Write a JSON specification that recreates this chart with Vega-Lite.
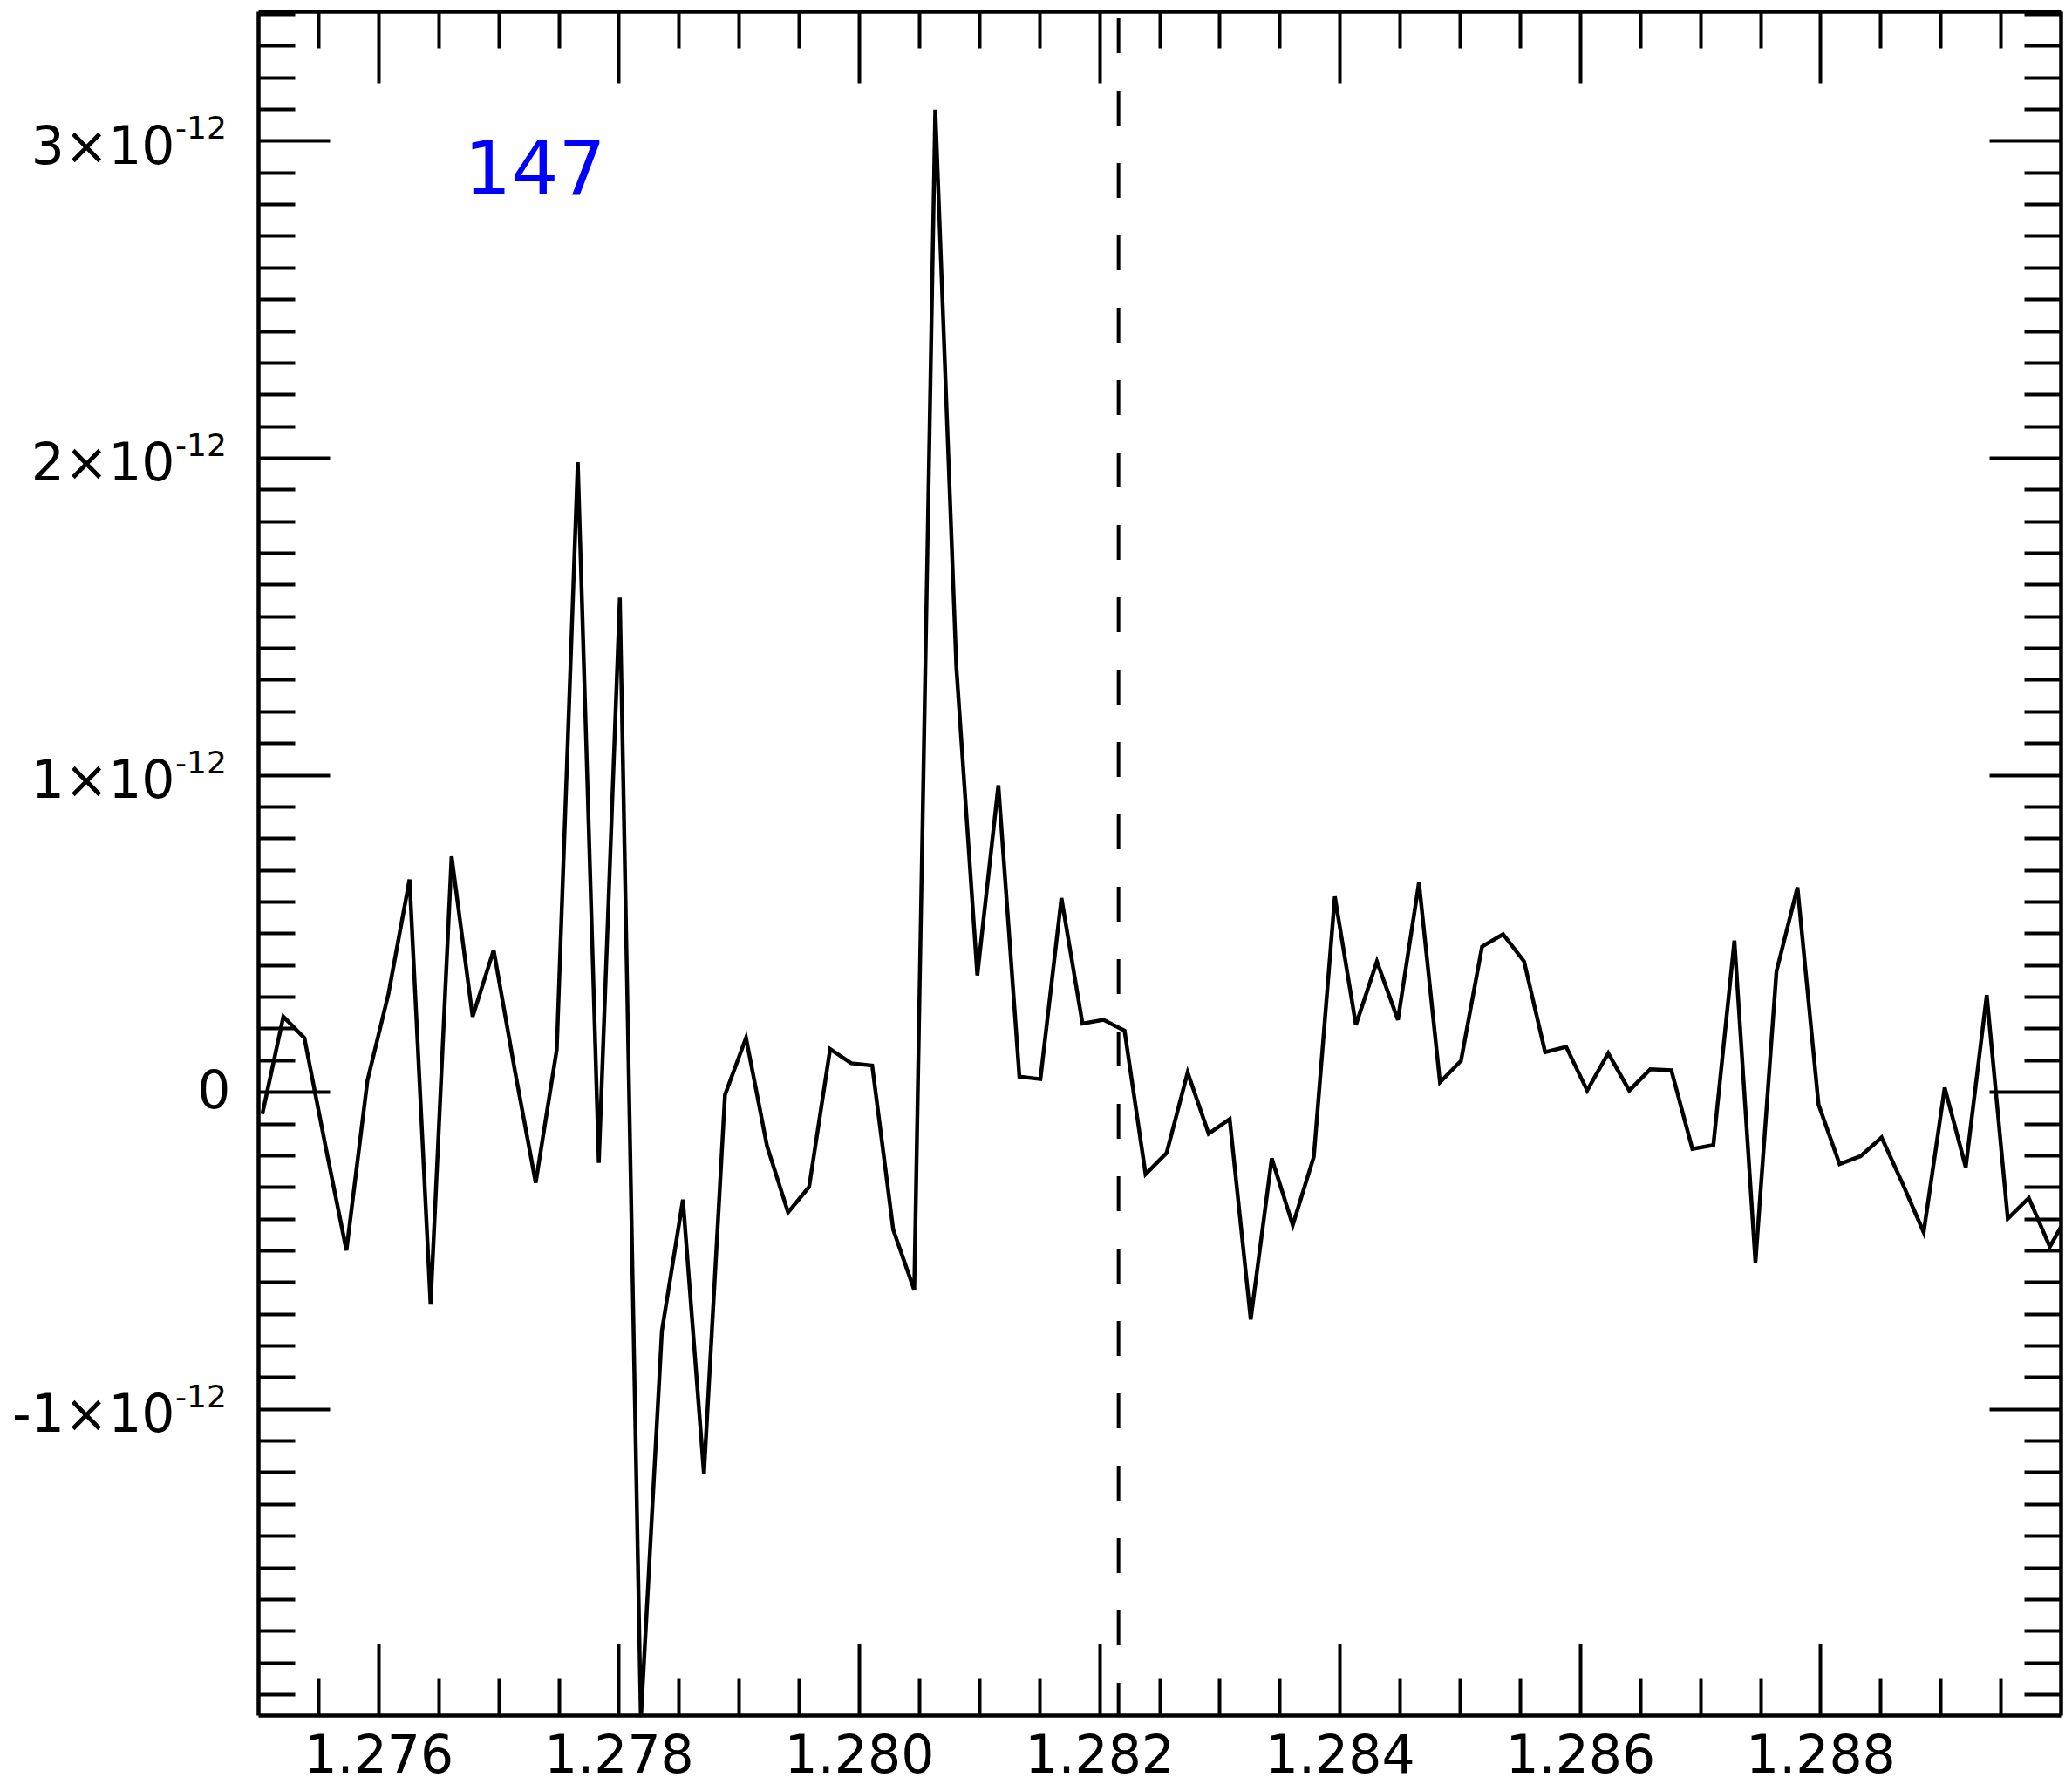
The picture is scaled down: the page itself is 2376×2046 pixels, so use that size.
{
  "$schema": "https://vega.github.io/schema/vega-lite/v6.json",
  "autosize": "none",
  "width": 2067,
  "height": 1954,
  "padding": {"left": 296, "top": 13, "right": 13, "bottom": 79},
  "background": "white",
  "config": {
    "view": {"stroke": null},
    "font": "DejaVu Sans",
    "axis": {
      "grid": false,
      "domainColor": "black",
      "domainWidth": 4.5,
      "tickColor": "black",
      "tickWidth": 4,
      "labelColor": "black",
      "labelFont": "DejaVu Sans",
      "labelFontSize": 60,
      "labelLimit": 0,
      "labelOverlap": false,
      "labelFlush": false,
      "title": null
    }
  },
  "datasets": {
    "spec": [
      {"wavelength": 1.275035, "flux": -0.07e-12},
      {"wavelength": 1.27521, "flux": 0.237e-12},
      {"wavelength": 1.275385, "flux": 0.17e-12},
      {"wavelength": 1.27556, "flux": -0.17e-12},
      {"wavelength": 1.275735, "flux": -0.50e-12},
      {"wavelength": 1.27591, "flux": 0.036e-12},
      {"wavelength": 1.276085, "flux": 0.31e-12},
      {"wavelength": 1.27626, "flux": 0.670e-12},
      {"wavelength": 1.276435, "flux": -0.671e-12},
      {"wavelength": 1.27661, "flux": 0.743e-12},
      {"wavelength": 1.276785, "flux": 0.237e-12},
      {"wavelength": 1.27696, "flux": 0.447e-12},
      {"wavelength": 1.277135, "flux": 0.07e-12},
      {"wavelength": 1.27731, "flux": -0.287e-12},
      {"wavelength": 1.277485, "flux": 0.133e-12},
      {"wavelength": 1.27766, "flux": 1.986e-12},
      {"wavelength": 1.277835, "flux": -0.224e-12},
      {"wavelength": 1.27801, "flux": 1.559e-12},
      {"wavelength": 1.278185, "flux": -1.98e-12},
      {"wavelength": 1.27836, "flux": -0.754e-12},
      {"wavelength": 1.278535, "flux": -0.34e-12},
      {"wavelength": 1.27871, "flux": -1.205e-12},
      {"wavelength": 1.278885, "flux": -0.01e-12},
      {"wavelength": 1.27906, "flux": 0.17e-12},
      {"wavelength": 1.279235, "flux": -0.171e-12},
      {"wavelength": 1.27941, "flux": -0.38e-12},
      {"wavelength": 1.279585, "flux": -0.30e-12},
      {"wavelength": 1.27976, "flux": 0.135e-12},
      {"wavelength": 1.279935, "flux": 0.09e-12},
      {"wavelength": 1.28011, "flux": 0.083e-12},
      {"wavelength": 1.280285, "flux": -0.435e-12},
      {"wavelength": 1.28046, "flux": -0.625e-12},
      {"wavelength": 1.280635, "flux": 3.098e-12},
      {"wavelength": 1.28081, "flux": 1.342e-12},
      {"wavelength": 1.280985, "flux": 0.367e-12},
      {"wavelength": 1.28116, "flux": 0.967e-12},
      {"wavelength": 1.281335, "flux": 0.048e-12},
      {"wavelength": 1.28151, "flux": 0.040e-12},
      {"wavelength": 1.281685, "flux": 0.611e-12},
      {"wavelength": 1.28186, "flux": 0.215e-12},
      {"wavelength": 1.282035, "flux": 0.227e-12},
      {"wavelength": 1.28221, "flux": 0.193e-12},
      {"wavelength": 1.282385, "flux": -0.26e-12},
      {"wavelength": 1.28256, "flux": -0.193e-12},
      {"wavelength": 1.282735, "flux": 0.061e-12},
      {"wavelength": 1.28291, "flux": -0.132e-12},
      {"wavelength": 1.283085, "flux": -0.086e-12},
      {"wavelength": 1.28326, "flux": -0.718e-12},
      {"wavelength": 1.283435, "flux": -0.21e-12},
      {"wavelength": 1.28361, "flux": -0.42e-12},
      {"wavelength": 1.283785, "flux": -0.205e-12},
      {"wavelength": 1.28396, "flux": 0.616e-12},
      {"wavelength": 1.284135, "flux": 0.211e-12},
      {"wavelength": 1.28431, "flux": 0.411e-12},
      {"wavelength": 1.284485, "flux": 0.227e-12},
      {"wavelength": 1.28466, "flux": 0.660e-12},
      {"wavelength": 1.284835, "flux": 0.030e-12},
      {"wavelength": 1.28501, "flux": 0.098e-12},
      {"wavelength": 1.285185, "flux": 0.458e-12},
      {"wavelength": 1.28536, "flux": 0.497e-12},
      {"wavelength": 1.285535, "flux": 0.411e-12},
      {"wavelength": 1.28571, "flux": 0.125e-12},
      {"wavelength": 1.285885, "flux": 0.142e-12},
      {"wavelength": 1.28606, "flux": 0.004e-12},
      {"wavelength": 1.286235, "flux": 0.122e-12},
      {"wavelength": 1.28641, "flux": 0.004e-12},
      {"wavelength": 1.286585, "flux": 0.071e-12},
      {"wavelength": 1.28676, "flux": 0.068e-12},
      {"wavelength": 1.286935, "flux": -0.18e-12},
      {"wavelength": 1.28711, "flux": -0.168e-12},
      {"wavelength": 1.287285, "flux": 0.477e-12},
      {"wavelength": 1.28746, "flux": -0.538e-12},
      {"wavelength": 1.287635, "flux": 0.38e-12},
      {"wavelength": 1.28781, "flux": 0.645e-12},
      {"wavelength": 1.287985, "flux": -0.04e-12},
      {"wavelength": 1.28816, "flux": -0.228e-12},
      {"wavelength": 1.288335, "flux": -0.203e-12},
      {"wavelength": 1.28851, "flux": -0.144e-12},
      {"wavelength": 1.288685, "flux": -0.29e-12},
      {"wavelength": 1.28886, "flux": -0.443e-12},
      {"wavelength": 1.289035, "flux": 0.013e-12},
      {"wavelength": 1.28921, "flux": -0.238e-12},
      {"wavelength": 1.289385, "flux": 0.305e-12},
      {"wavelength": 1.28956, "flux": -0.40e-12},
      {"wavelength": 1.289735, "flux": -0.335e-12},
      {"wavelength": 1.28991, "flux": -0.489e-12},
      {"wavelength": 1.290085, "flux": -0.37e-12}
    ],
    "line_ref": [{"wavelength": 1.28216}],
    "note": [{"wavelength": 1.277304, "flux": 2.83e-12, "label": "147"}],
    "exponent": [
      {"wavelength": 1.275, "flux": -1e-12, "sup": "-12"},
      {"wavelength": 1.275, "flux": 1e-12, "sup": "-12"},
      {"wavelength": 1.275, "flux": 2e-12, "sup": "-12"},
      {"wavelength": 1.275, "flux": 3e-12, "sup": "-12"}
    ]
  },
  "layer": [
    {
      "data": {"name": "spec"},
      "mark": {"type": "line", "color": "black", "strokeWidth": 4.5, "clip": true},
      "encoding": {
        "x": {
          "field": "wavelength", "type": "quantitative",
          "scale": {"domain": [1.275, 1.29], "nice": false, "zero": false},
          "axis": {
            "orient": "bottom",
            "values": [1.2755, 1.276, 1.2765, 1.277, 1.2775, 1.278, 1.2785, 1.279, 1.2795, 1.28, 1.2805, 1.281, 1.2815, 1.282, 1.2825, 1.283, 1.2835, 1.284, 1.2845, 1.285, 1.2855, 1.286, 1.2865, 1.287, 1.2875, 1.288, 1.2885, 1.289, 1.2895],
            "tickSize": {"condition": {"test": "abs(datum.value*500 - round(datum.value*500)) < 0.001", "value": -82}, "value": -42},
            "labelExpr": "abs(datum.value*500 - round(datum.value*500)) < 0.001 ? format(datum.value, '.3f') : ''",
            "labelPadding": 100,
            "labelBaseline": "top"
          }
        },
        "y": {
          "field": "flux", "type": "quantitative",
          "scale": {"domain": [-1.966e-12, 3.408e-12], "nice": false, "zero": false},
          "axis": {
            "orient": "left",
            "values": [-1.9e-12, -1.8e-12, -1.7e-12, -1.6e-12, -1.5e-12, -1.4e-12, -1.3e-12, -1.2e-12, -1.1e-12, -1e-12, -0.9e-12, -0.8e-12, -0.7e-12, -0.6e-12, -0.5e-12, -0.4e-12, -0.3e-12, -0.2e-12, -0.1e-12, 0, 0.1e-12, 0.2e-12, 0.3e-12, 0.4e-12, 0.5e-12, 0.6e-12, 0.7e-12, 0.8e-12, 0.9e-12, 1e-12, 1.1e-12, 1.2e-12, 1.3e-12, 1.4e-12, 1.5e-12, 1.6e-12, 1.7e-12, 1.8e-12, 1.9e-12, 2e-12, 2.1e-12, 2.2e-12, 2.3e-12, 2.4e-12, 2.5e-12, 2.6e-12, 2.7e-12, 2.8e-12, 2.9e-12, 3e-12, 3.1e-12, 3.2e-12, 3.3e-12, 3.4e-12],
            "tickSize": {"condition": {"test": "abs(datum.value*1e12 - round(datum.value*1e12)) < 0.01", "value": -82}, "value": -42},
            "labelExpr": "abs(datum.value*1e12 - round(datum.value*1e12)) < 0.01 ? (round(datum.value*1e12) == 0 ? '0' : round(datum.value*1e12) + '×10') : ''",
            "labelPadding": {"condition": {"test": "abs(datum.value) < 1e-15", "value": 114}, "value": 178},
            "labelOffset": {"condition": {"test": "abs(datum.value) < 1e-15", "value": 0}, "value": 8},
            "labelAlign": "right",
            "labelBaseline": "middle"
          }
        }
      }
    },
    {
      "data": {"name": "line_ref"},
      "mark": {"type": "rule", "color": "black", "strokeWidth": 4, "strokeDash": [40, 43], "strokeDashOffset": 75},
      "encoding": {
        "x": {
          "field": "wavelength", "type": "quantitative",
          "scale": {"domain": [1.275, 1.29], "nice": false, "zero": false},
          "axis": {
            "orient": "top",
            "values": [1.2755, 1.276, 1.2765, 1.277, 1.2775, 1.278, 1.2785, 1.279, 1.2795, 1.28, 1.2805, 1.281, 1.2815, 1.282, 1.2825, 1.283, 1.2835, 1.284, 1.2845, 1.285, 1.2855, 1.286, 1.2865, 1.287, 1.2875, 1.288, 1.2885, 1.289, 1.2895],
            "tickSize": {"condition": {"test": "abs(datum.value*500 - round(datum.value*500)) < 0.001", "value": -82}, "value": -42},
            "labels": false
          }
        }
      }
    },
    {
      "data": {"name": "note"},
      "mark": {"type": "text", "color": "#0000ff", "fontSize": 85, "font": "DejaVu Sans", "align": "center", "baseline": "alphabetic"},
      "encoding": {
        "x": {
          "field": "wavelength", "type": "quantitative",
          "scale": {"domain": [1.275, 1.29], "nice": false, "zero": false},
          "axis": null
        },
        "y": {
          "field": "flux", "type": "quantitative",
          "scale": {"domain": [-1.966e-12, 3.408e-12], "nice": false, "zero": false},
          "axis": {
            "orient": "right",
            "values": [-1.9e-12, -1.8e-12, -1.7e-12, -1.6e-12, -1.5e-12, -1.4e-12, -1.3e-12, -1.2e-12, -1.1e-12, -1e-12, -0.9e-12, -0.8e-12, -0.7e-12, -0.6e-12, -0.5e-12, -0.4e-12, -0.3e-12, -0.2e-12, -0.1e-12, 0, 0.1e-12, 0.2e-12, 0.3e-12, 0.4e-12, 0.5e-12, 0.6e-12, 0.7e-12, 0.8e-12, 0.9e-12, 1e-12, 1.1e-12, 1.2e-12, 1.3e-12, 1.4e-12, 1.5e-12, 1.6e-12, 1.7e-12, 1.8e-12, 1.9e-12, 2e-12, 2.1e-12, 2.2e-12, 2.3e-12, 2.4e-12, 2.5e-12, 2.6e-12, 2.7e-12, 2.8e-12, 2.9e-12, 3e-12, 3.1e-12, 3.2e-12, 3.3e-12, 3.4e-12],
            "tickSize": {"condition": {"test": "abs(datum.value*1e12 - round(datum.value*1e12)) < 0.01", "value": -82}, "value": -42},
            "labels": false
          }
        },
        "text": {"field": "label"}
      }
    },
    {
      "data": {"name": "exponent"},
      "mark": {"type": "text", "color": "black", "fontSize": 36, "font": "DejaVu Sans", "align": "left", "baseline": "alphabetic", "dx": -95, "dy": -2},
      "encoding": {
        "x": {
          "field": "wavelength", "type": "quantitative",
          "scale": {"domain": [1.275, 1.29], "nice": false, "zero": false},
          "axis": null
        },
        "y": {
          "field": "flux", "type": "quantitative",
          "scale": {"domain": [-1.966e-12, 3.408e-12], "nice": false, "zero": false},
          "axis": null
        },
        "text": {"field": "sup"}
      }
    }
  ],
  "resolve": {"axis": {"x": "independent", "y": "independent"}}
}
